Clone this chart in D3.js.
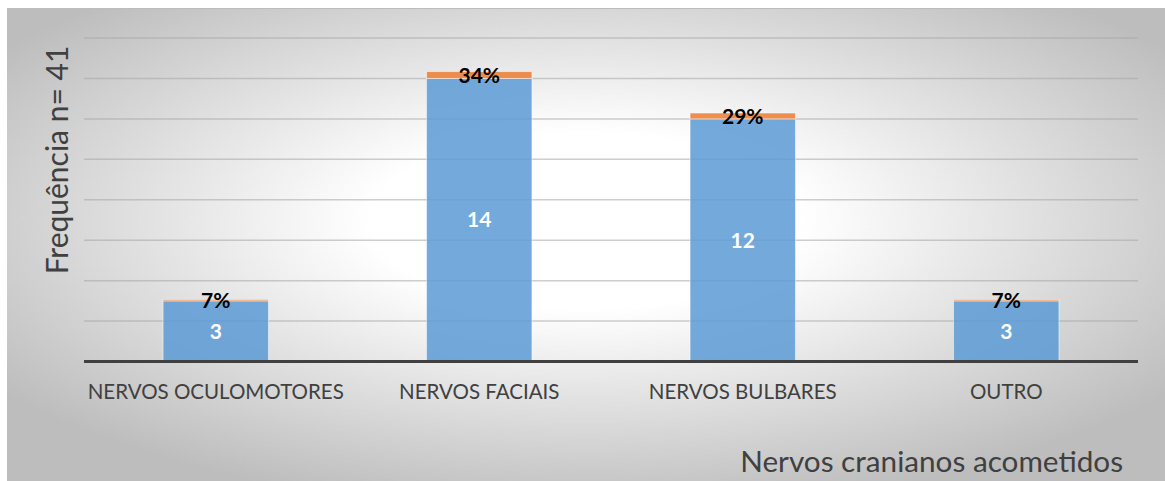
<!DOCTYPE html>
<html>
<head>
<meta charset="utf-8">
<script src="https://cdn.jsdelivr.net/npm/d3@7"></script>
<style>
  html, body { margin: 0; padding: 0; background: #fff; }
  svg { display: block; }
</style>
</head>
<body>
<svg id="chart" width="1165" height="481"></svg>
<script>
// dados do gráfico
const categories = ["NERVOS OCULOMOTORES", "NERVOS FACIAIS", "NERVOS BULBARES", "OUTRO"];
const counts = [3, 14, 12, 3];
const shares = [0.07, 0.34, 0.29, 0.07];
const shareLabels = ["7%", "34%", "29%", "7%"];
const yTicks = [0, 2, 4, 6, 8, 10, 12, 14, 16];

const W = 1165, H = 481;
const plot = { left: 84, right: 1138, top: 38, bottom: 361.5 };
const FONT = "Lato, 'Open Sans', sans-serif";

const svg = d3.select("#chart");
const defs = svg.append("defs");

const grad = defs.append("radialGradient")
  .attr("id", "bg").attr("cx", "0.5").attr("cy", "0.45").attr("r", "0.62");
grad.append("stop").attr("offset", "0").attr("stop-color", "#ffffff");
grad.append("stop").attr("offset", "0.3").attr("stop-color", "#ffffff");
grad.append("stop").attr("offset", "1").attr("stop-color", "#bdbdbd");

svg.append("rect")
  .attr("x", 7).attr("y", 8).attr("width", W - 7).attr("height", H - 8)
  .attr("fill", "url(#bg)");
svg.append("line")
  .attr("x1", 7).attr("x2", W).attr("y1", 8.5).attr("y2", 8.5)
  .attr("stroke", "#bcbcbc").attr("stroke-width", 1);

const x = d3.scaleBand()
  .domain(categories)
  .range([plot.left, plot.right])
  .paddingInner(0.6).paddingOuter(0.3);

const y = d3.scaleLinear()
  .domain([0, 16])
  .range([plot.bottom, plot.top]);

// linhas de grade
svg.append("g")
  .selectAll("line")
  .data(yTicks.filter(d => d > 0))
  .join("line")
    .attr("x1", plot.left).attr("x2", plot.right)
    .attr("y1", d => y(d)).attr("y2", d => y(d))
    .attr("stroke", "#a6a6a6").attr("stroke-opacity", 0.55)
    .attr("stroke-width", 1.5);

const rows = categories.map((c, i) => ({ cat: c, count: counts[i], share: shares[i], label: shareLabels[i] }));
const series = d3.stack().keys(["count", "share"])(rows);
const colors = { count: "#5b9bd5", share: "#ed7d31" };

svg.append("g")
  .selectAll("g")
  .data(series)
  .join("g")
    .attr("fill", d => colors[d.key])
  .selectAll("rect")
  .data(d => d)
  .join("rect")
    .attr("x", d => x(d.data.cat))
    .attr("width", x.bandwidth())
    .attr("y", d => y(d[1]))
    .attr("height", d => y(d[0]) - y(d[1]))
    .attr("fill-opacity", 0.85)
    .attr("stroke", "#ffffff").attr("stroke-opacity", 0.5).attr("stroke-width", 1);

// eixo base
svg.append("line")
  .attr("x1", plot.left).attr("x2", plot.right)
  .attr("y1", y(0)).attr("y2", y(0))
  .attr("stroke", "#404040").attr("stroke-width", 3);

// rótulos de valor
svg.append("g")
  .selectAll("text")
  .data(series[0])
  .join("text")
    .attr("x", d => x(d.data.cat) + x.bandwidth() / 2)
    .attr("y", d => (y(d[0]) + y(d[1])) / 2)
    .attr("dy", "0.35em")
    .attr("text-anchor", "middle")
    .attr("font-family", FONT).attr("font-weight", 700).attr("font-size", 21)
    .attr("fill", "#ffffff")
    .text(d => d.data.count);

svg.append("g")
  .selectAll("text")
  .data(series[1])
  .join("text")
    .attr("x", d => x(d.data.cat) + x.bandwidth() / 2)
    .attr("y", d => (y(d[0]) + y(d[1])) / 2)
    .attr("dy", "0.36em")
    .attr("text-anchor", "middle")
    .attr("font-family", FONT).attr("font-weight", 700).attr("font-size", 21)
    .attr("fill", "#000000")
    .text(d => d.data.label);

// rótulos das categorias
svg.append("g")
  .selectAll("text")
  .data(categories)
  .join("text")
    .attr("x", d => x(d) + x.bandwidth() / 2)
    .attr("y", 399)
    .attr("text-anchor", "middle")
    .attr("font-family", FONT).attr("font-size", 20.5)
    .attr("fill", "#404040")
    .text(d => d);

// títulos dos eixos
svg.append("text")
  .attr("transform", "translate(68,160) rotate(-90)")
  .attr("text-anchor", "middle")
  .attr("font-family", FONT).attr("font-size", 30)
  .attr("fill", "#404040")
  .text("Frequência n= 41");

svg.append("text")
  .attr("x", 1123).attr("y", 472)
  .attr("text-anchor", "end")
  .attr("font-family", FONT).attr("font-size", 29.7)
  .attr("fill", "#404040")
  .text("Nervos cranianos acometidos");
</script>
</body>
</html>
